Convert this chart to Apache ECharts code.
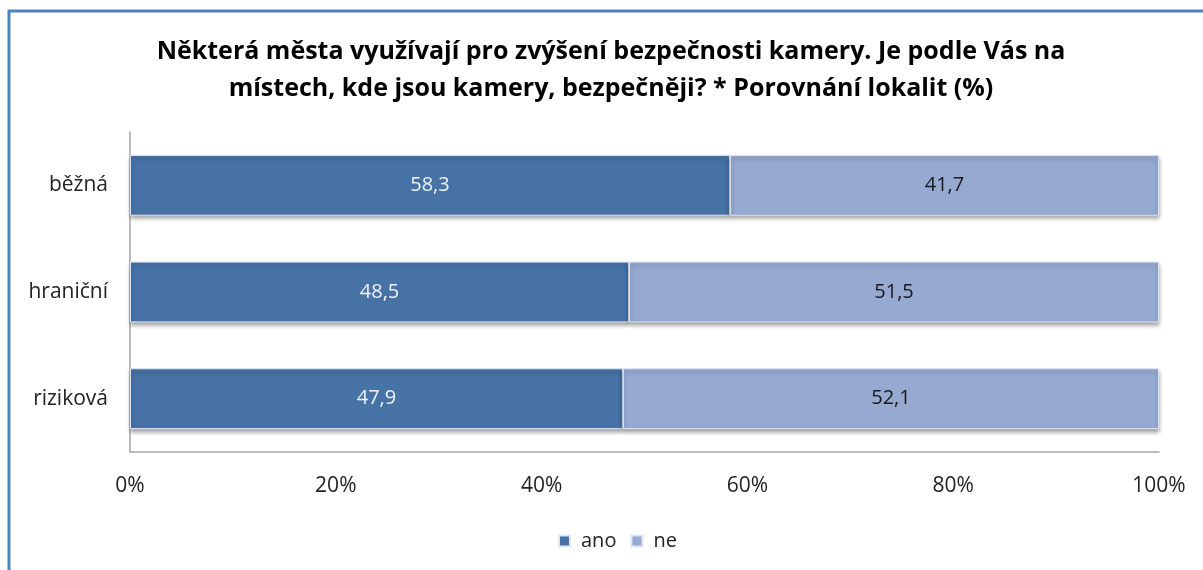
<!DOCTYPE html>
<html>
<head>
<meta charset="utf-8">
<script src="https://cdn.jsdelivr.net/npm/echarts@6/dist/echarts.min.js"></script>
<style>
  html, body { margin: 0; padding: 0; background: #fff; }
  #chart { width: 1203px; height: 570px; }
</style>
</head>
<body>
<div id="chart"></div>
<script>
const categories = ['běžná', 'hraniční', 'riziková']
const ano = [58.3, 48.5, 47.9]
const ne = [41.7, 51.5, 52.1]
const xTicks = ['0%', '20%', '40%', '60%', '80%', '100%']

const FONT = '"Open Sans", "Noto Sans", sans-serif'

const myChart = echarts.init(document.getElementById('chart'))

function seriesFor (name, data, color, labelColor) {
  return {
    name: name,
    type: 'bar',
    stack: 'total',
    data: data,
    barWidth: '57%',
    itemStyle: {
      color: color,
      borderColor: '#dfe6f0',
      borderWidth: 1,
      shadowColor: 'rgba(0,0,0,0.35)',
      shadowBlur: 4,
      shadowOffsetY: 3
    },
    label: {
      show: true,
      position: 'inside',
      color: labelColor,
      fontFamily: FONT,
      fontSize: 20,
      formatter: p => String(p.value).replace('.', ',')
    }
  }
}

myChart.setOption({
  animation: false,
  textStyle: { fontFamily: FONT },
  title: {
    text: 'Některá města využívají pro zvýšení bezpečnosti kamery. Je podle Vás na\nmístech, kde jsou kamery, bezpečněji? * Porovnání lokalit (%)',
    left: 606,
    top: 28,
    textAlign: 'center',
    textStyle: {
      fontFamily: FONT,
      fontSize: 25,
      fontWeight: 'bold',
      color: '#000',
      lineHeight: 37
    }
  },
  legend: {
    bottom: 14,
    left: 553,
    itemWidth: 11,
    itemHeight: 11,
    itemGap: 14,
    icon: 'rect',
    textStyle: { fontFamily: FONT, fontSize: 20, color: '#222', padding: [0, 0, 0, 6] },
    data: ['ano', 'ne']
  },
  graphic: [
    {
      type: 'polyline',
      shape: { points: [[9, 570], [9, 11], [1203, 11]] },
      style: { stroke: '#4f81bd', lineWidth: 3, fill: null },
      silent: true
    }
  ],
  grid: { left: 130, right: 44, top: 132, bottom: 118 },
  xAxis: {
    type: 'value',
    min: 0,
    max: 100,
    interval: 20,
    splitLine: { show: false },
    axisLine: { show: true, lineStyle: { color: '#a6a6a6', width: 1.5 } },
    axisTick: { show: false },
    axisLabel: {
      color: '#222',
      fontSize: 21,
      fontFamily: FONT,
      margin: 24,
      formatter: v => xTicks[Math.round(v / 20)]
    }
  },
  yAxis: {
    type: 'category',
    inverse: true,
    data: categories,
    axisLine: { show: true, lineStyle: { color: '#a6a6a6', width: 1.5 } },
    axisTick: { show: false },
    axisLabel: { color: '#222', fontSize: 21, fontFamily: FONT, margin: 22 }
  },
  series: [
    seriesFor('ano', ano, '#4672a6', '#eef2f8'),
    seriesFor('ne', ne, '#95a9d1', '#1a1a1a')
  ]
})

window.addEventListener('resize', () => {
  myChart.resize()
})
</script>
</body>
</html>
